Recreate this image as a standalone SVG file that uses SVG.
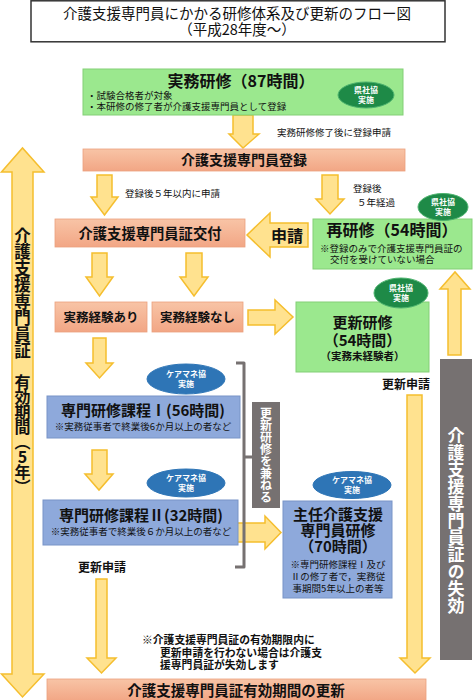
<svg xmlns="http://www.w3.org/2000/svg" width="474" height="700" viewBox="0 0 474 700">
<defs>
<linearGradient id="salmon" x1="0" y1="0" x2="0" y2="1">
<stop offset="0" stop-color="#F8C4A6"/>
<stop offset="1" stop-color="#F2A685"/>
</linearGradient>
</defs>
<style>
text{font-family:"Noto Sans CJK JP","Noto Sans CJK SC",sans-serif;fill:#111}
.b{font-weight:700}
.m{text-anchor:middle}
.arr{fill:#FFE28F;stroke:#F5BE2E;stroke-width:1.5;stroke-linejoin:miter}
.pink{fill:url(#salmon);stroke:#EBA07E;stroke-width:0.8}
.green{fill:#9BE88E;stroke:#83CF77;stroke-width:1}
.blue{fill:#8EA9DB;stroke:#7894C7;stroke-width:1}
.ge{fill:#1E8A47;stroke:#4DB36E;stroke-width:1}
.be{fill:#2E75B6;stroke:#2E75B6;stroke-width:1}
.et{fill:#fff;font-size:8px;font-weight:700;text-anchor:middle}
.note{font-size:9.5px}
.gray{fill:#767171}
.vt{writing-mode:vertical-rl;text-orientation:upright}
</style>

<g id="title">
<rect x="31" y="0.8" width="414" height="41" fill="#fff" stroke="#333" stroke-width="1.5"/>
<text x="237" y="19" class="m" style="font-size:14.5px">介護支援専門員にかかる研修体系及び更新のフロー図</text>
<text x="237" y="35" class="m" style="font-size:14.5px">（平成28年度～）</text>
</g>

<g id="connectors">
<!-- big double arrow left -->
<path class="arr" d="M12 172 H1.5 L22.5 148 L44 172 H33 V674 H44 L22.5 697 L1.5 674 H12 Z"/>
<path class="arr" d="M233 115 H253 V134 H259 L243 148 L229 134 H233 Z"/>
<path class="arr" d="M97 175 H112 V197 H118 L104.5 215 L91 197 H97 Z"/>
<path class="arr" d="M322 175 H338 V199 H344 L330 214 L316 199 H322 Z"/>
<path class="arr" d="M308 223 H270 V213 L247 235 L270 257 V247 H308 Z"/>
<path class="arr" d="M92 253 H107 V277 H113 L99.5 296 L86 277 H92 Z"/>
<path class="arr" d="M186 253 H202 V277 H208 L194 296 L180 277 H186 Z"/>
<path class="arr" d="M248 310 H275 V300 L293 317 L275 334 V325 H248 Z"/>
<path class="arr" d="M93 338 H106 V363 H113 L99.5 378 L86 363 H93 Z"/>
<path class="arr" d="M92 450 H107 V474 H113 L99 490 L85 474 H92 Z"/>
<path class="arr" d="M234 523 H265 V516 L281 532.5 L265 549 V542 H234 Z"/>
<path class="arr" d="M96 579 H107 V658 H116 L101.5 673 L87 658 H96 Z"/>
<path class="arr" d="M407 395 H422 V658 H430 L415 673 L400 658 H407 Z"/>
<path class="arr" d="M448 355 V289 H440 L455 272 L470 289 H461 V355 Z"/>
<path d="M236 363 H244 V457 H252 M244 457 V567 H235" fill="none" stroke="#767171" stroke-width="3" stroke-linejoin="round"/>
<text x="277" y="136" class="note">実務研修修了後に登録申請</text>
<text x="125" y="197" class="note">登録後５年以内に申請</text>
<text x="353" y="192" class="note">登録後</text>
<text x="357" y="206" class="note">５年経過</text>
<text x="271" y="242" class="b" style="font-size:16px">申請</text>
<text x="406" y="389" class="b m" style="font-size:12px">更新申請</text>
<text x="102" y="572" class="b m" style="font-size:12px">更新申請</text>
</g>

<g id="validity-label">
<text x="22.5" y="227" class="b vt" style="font-size:16.5px">介護支援専門員証</text>
<text x="22.5" y="374" class="b vt" style="font-size:16px;letter-spacing:-1px">有効期間（5年）</text>
</g>

<g id="jitsumu-kenshu">
<rect x="83" y="69" width="320" height="46" class="green"/>
<text x="241" y="87" class="b m" style="font-size:16px">実務研修（87時間）</text>
<text x="87" y="99" class="note">・試験合格者が対象</text>
<text x="87" y="110" class="note">・本研修の修了者が介護支援専門員として登録</text>
<ellipse cx="366" cy="95" rx="28" ry="13" class="ge"/>
<text x="366" y="93" class="et">県社協</text>
<text x="366" y="103" class="et">実施</text>
</g>

<g id="touroku">
<rect x="83" y="149" width="322" height="22" class="pink"/>
<text x="244" y="165" class="b m" style="font-size:14px">介護支援専門員登録</text>
</g>

<g id="koufu">
<rect x="55" y="219" width="190" height="28" class="pink"/>
<text x="150" y="238.5" class="b m" style="font-size:14.3px">介護支援専門員証交付</text>
</g>

<g id="saikenshu">
<rect x="313" y="219" width="159" height="50" class="green"/>
<text x="392" y="236" class="b m" style="font-size:16px">再研修（54時間）</text>
<text x="320" y="252" class="note">※登録のみで介護支援専門員証の</text>
<text x="330" y="263" class="note">交付を受けていない場合</text>
<ellipse cx="443" cy="207" rx="25" ry="13.5" class="ge"/>
<text x="443" y="205" class="et">県社協</text>
<text x="443" y="215" class="et">実施</text>
</g>

<g id="keiken-ari">
<rect x="55" y="302" width="92" height="30" class="pink"/>
<text x="101" y="322" class="b m" style="font-size:12.5px">実務経験あり</text>
</g>

<g id="keiken-nashi">
<rect x="152" y="302" width="91" height="30" class="pink"/>
<text x="197.5" y="322" class="b m" style="font-size:12.5px">実務経験なし</text>
</g>

<g id="koushin-kenshu">
<rect x="296" y="302" width="133" height="70" class="green"/>
<text x="362.5" y="328" class="b m" style="font-size:15px">更新研修</text>
<text x="362.5" y="346" class="b m" style="font-size:15px">（54時間）</text>
<text x="362.5" y="360" class="b m" style="font-size:10.5px">（実務未経験者）</text>
<ellipse cx="401" cy="293" rx="27" ry="15" class="ge"/>
<text x="401" y="291" class="et">県社協</text>
<text x="401" y="301" class="et">実施</text>
</g>

<g id="senmon-1">
<rect x="47" y="396" width="193" height="42" class="blue"/>
<text x="143" y="416" class="b m" style="font-size:15px">専門研修課程Ⅰ(56時間)</text>
<text x="143" y="430" class="note m">※実務従事者で終業後6か月以上の者など</text>
<ellipse cx="186" cy="379" rx="39" ry="15" class="be"/>
<text x="186" y="377" class="et">ケアマネ協</text>
<text x="186" y="387" class="et">実施</text>
</g>

<g id="senmon-2">
<rect x="43" y="500" width="195" height="45" class="blue"/>
<text x="141" y="521" class="b m" style="font-size:15px">専門研修課程Ⅱ(32時間)</text>
<text x="141" y="535" class="note m">※実務従事者で終業後６か月以上の者など</text>
<ellipse cx="186" cy="483" rx="39" ry="14" class="be"/>
<text x="186" y="481" class="et">ケアマネ協</text>
<text x="186" y="491" class="et">実施</text>
</g>

<g id="kaneru">
<rect x="252" y="402" width="28" height="106" class="gray"/>
<text x="266" y="455" class="b m vt" style="font-size:12px;fill:#fff">更新研修を兼ねる</text>
</g>

<g id="shunin-kenshu">
<rect x="283" y="501" width="109" height="97" class="blue"/>
<text x="338" y="520" class="b m" style="font-size:15px">主任介護支援</text>
<text x="338" y="536" class="b m" style="font-size:15px">専門員研修</text>
<text x="338" y="552" class="b m" style="font-size:15px">（70時間）</text>
<text x="338" y="568" class="note m">※専門研修課程Ⅰ及び</text>
<text x="338" y="580" class="note m">Ⅱの修了者で，実務従</text>
<text x="338" y="592" class="note m">事期間5年以上の者等</text>
<ellipse cx="352" cy="485" rx="39" ry="13.5" class="be"/>
<text x="352" y="483" class="et">ケアマネ協</text>
<text x="352" y="493" class="et">実施</text>
</g>

<g id="shikkou">
<rect x="440" y="359" width="32" height="301" class="gray"/>
<text x="456" y="521" class="b m vt" style="font-size:17px;fill:#fff">介護支援専門員証の失効</text>
</g>

<g id="note">
<text x="142" y="644" class="b" style="font-size:10.8px">※介護支援専門員証の有効期限内に</text>
<text x="160" y="657" class="b" style="font-size:10.8px">更新申請を行わない場合は介護支</text>
<text x="160" y="669" class="b" style="font-size:10.8px">援専門員証が失効します</text>
</g>

<g id="koushin">
<rect x="47" y="679" width="379" height="22" class="pink"/>
<text x="236" y="696" class="b m" style="font-size:14.5px">介護支援専門員証有効期間の更新</text>
</g>
</svg>
